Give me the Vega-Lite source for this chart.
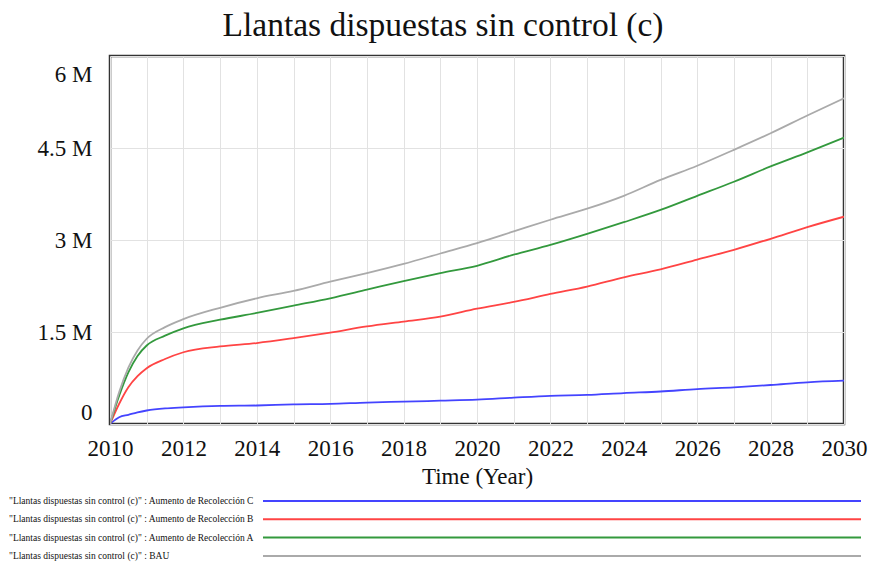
{
  "$schema": "https://vega.github.io/schema/vega-lite/v6.json",
  "width": 734,
  "height": 368,
  "autosize": {"type": "none"},
  "padding": {"left": 110, "top": 56, "right": 25, "bottom": 141},
  "background": "white",
  "title": {"text": "Llantas dispuestas sin control (c)", "font": "Liberation Serif", "fontSize": 33.5, "fontWeight": "normal", "color": "#111", "anchor": "middle", "dx": -34, "offset": 13},
  "config": {"view": {"stroke": "#333", "strokeWidth": 2.5}, "font": "Liberation Serif"},
  "data": {"values": [
    {"year": 2010, "BAU": 0, "A": 0, "B": 0, "C": 0},
    {"year": 2010.25, "BAU": 520000, "A": 460000, "B": 330000, "C": 110000},
    {"year": 2010.5, "BAU": 920000, "A": 840000, "B": 600000, "C": 150000},
    {"year": 2010.75, "BAU": 1200000, "A": 1110000, "B": 780000, "C": 190000},
    {"year": 2011, "BAU": 1390000, "A": 1280000, "B": 910000, "C": 220000},
    {"year": 2011.5, "BAU": 1580000, "A": 1440000, "B": 1060000, "C": 255000},
    {"year": 2012, "BAU": 1710000, "A": 1560000, "B": 1170000, "C": 272000},
    {"year": 2013, "BAU": 1895000, "A": 1700000, "B": 1265000, "C": 295000},
    {"year": 2014, "BAU": 2050000, "A": 1810000, "B": 1320000, "C": 302000},
    {"year": 2015, "BAU": 2170000, "A": 1930000, "B": 1400000, "C": 320000},
    {"year": 2016, "BAU": 2320000, "A": 2050000, "B": 1490000, "C": 328000},
    {"year": 2017, "BAU": 2460000, "A": 2190000, "B": 1590000, "C": 350000},
    {"year": 2018, "BAU": 2610000, "A": 2330000, "B": 1670000, "C": 364000},
    {"year": 2019, "BAU": 2780000, "A": 2460000, "B": 1750000, "C": 380000},
    {"year": 2020, "BAU": 2950000, "A": 2580000, "B": 1880000, "C": 397000},
    {"year": 2021, "BAU": 3140000, "A": 2760000, "B": 1990000, "C": 430000},
    {"year": 2022, "BAU": 3330000, "A": 2920000, "B": 2120000, "C": 460000},
    {"year": 2023, "BAU": 3510000, "A": 3100000, "B": 2240000, "C": 475000},
    {"year": 2024, "BAU": 3720000, "A": 3290000, "B": 2390000, "C": 505000},
    {"year": 2025, "BAU": 3980000, "A": 3490000, "B": 2520000, "C": 530000},
    {"year": 2026, "BAU": 4210000, "A": 3720000, "B": 2680000, "C": 570000},
    {"year": 2027, "BAU": 4470000, "A": 3950000, "B": 2840000, "C": 598000},
    {"year": 2028, "BAU": 4740000, "A": 4200000, "B": 3020000, "C": 636000},
    {"year": 2029, "BAU": 5030000, "A": 4430000, "B": 3210000, "C": 680000},
    {"year": 2030, "BAU": 5310000, "A": 4670000, "B": 3380000, "C": 706000}
  ]},
  "transform": [{"fold": ["C", "B", "A", "BAU"], "as": ["scenario", "value"]}],
  "mark": {"type": "line", "strokeWidth": 1.8, "clip": true, "interpolate": "monotone"},
  "encoding": {
    "x": {
      "field": "year", "type": "quantitative",
      "scale": {"domain": [2010, 2030], "nice": false, "zero": false},
      "axis": {
        "values": [2010, 2011, 2012, 2013, 2014, 2015, 2016, 2017, 2018, 2019, 2020, 2021, 2022, 2023, 2024, 2025, 2026, 2027, 2028, 2029, 2030],
        "format": "d",
        "labelExpr": "datum.value % 2 == 0 ? datum.label : ''",
        "title": "Time (Year)",
        "grid": true, "gridColor": "#e2e2e2", "domain": false, "ticks": false,
        "labelFont": "Liberation Serif", "labelFontSize": 23, "labelPadding": 13, "labelColor": "#111", "labelOverlap": false, "labelFlush": false,
        "titleFont": "Liberation Serif", "titleFontSize": 23, "titleFontWeight": "normal", "titlePadding": 5, "titleColor": "#111"
      }
    },
    "y": {
      "field": "value", "type": "quantitative",
      "scale": {"domain": [0, 6000000], "nice": false},
      "axis": {
        "values": [0, 1500000, 3000000, 4500000, 6000000],
        "labelExpr": "datum.value == 0 ? '0' : format(datum.value / 1000000, '') + ' M'",
        "title": null,
        "grid": true, "gridColor": "#e2e2e2", "domain": false, "ticks": false,
        "labelFont": "Liberation Serif", "labelFontSize": 23, "labelPadding": 18, "labelFlush": true, "labelColor": "#111",
        "labelOffset": {"condition": {"test": "datum.value == 6000000", "value": 7}, "value": 0}
      }
    },
    "color": {
      "field": "scenario", "type": "nominal",
      "scale": {"domain": ["C", "B", "A", "BAU"], "range": ["#4444ff", "#ff4444", "#33993d", "#aaaaaa"]},
      "legend": {
        "orient": "none", "legendX": 147, "legendY": 439, "direction": "vertical", "title": null,
        "symbolType": "M0,0H119.6", "symbolSize": 100, "symbolStrokeWidth": 2, "rowPadding": 7.3,
        "labelAlign": "left", "labelOffset": -260, "labelLimit": 400,
        "labelFont": "Liberation Serif", "labelFontSize": 9.5, "labelColor": "#111", "padding": 0,
        "labelExpr": "'\"Llantas dispuestas sin control (c)\" : ' + (datum.value == 'BAU' ? 'BAU' : 'Aumento de Recolección ' + datum.value)"
      }
    }
  }
}
